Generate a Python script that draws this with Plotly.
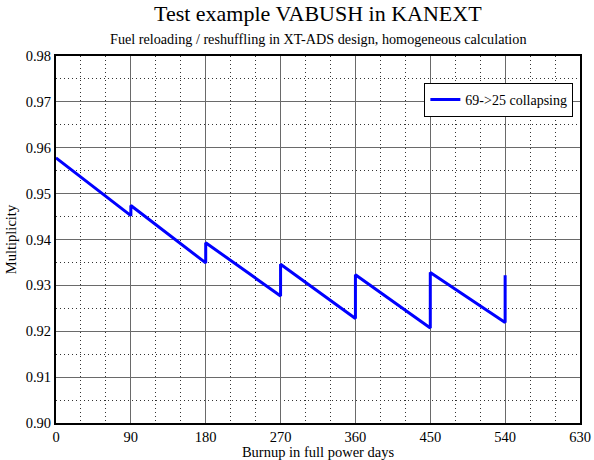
import plotly.graph_objects as go

days = [0, 90, 90, 180, 180, 270, 270, 360, 360, 450, 450, 540, 540]
multiplicity = [0.9578, 0.9452, 0.9474, 0.9349, 0.9393, 0.9277, 0.9346,
                0.9228, 0.9323, 0.9207, 0.9328, 0.9219, 0.9322]
series_name = "69->25 collapsing"
x_ticks = [0, 90, 180, 270, 360, 450, 540, 630]
y_ticks = [0.90, 0.91, 0.92, 0.93, 0.94, 0.95, 0.96, 0.97, 0.98]

FONT = "Liberation Serif, Times New Roman, serif"

fig = go.Figure()
fig.add_trace(go.Scatter(x=days, y=multiplicity, mode="lines", name=series_name,
                         line=dict(color="#0000ff", width=3)))

fig.update_layout(
    width=594, height=460,
    margin=dict(l=56, r=14, t=56, b=37, autoexpand=False),
    paper_bgcolor="white", plot_bgcolor="white",
    font=dict(family=FONT, size=14, color="black"),
    showlegend=True,
    legend=dict(x=0.703, y=0.927, xanchor="left", yanchor="top",
                bgcolor="white", bordercolor="black", borderwidth=1,
                font=dict(family=FONT, size=14), itemwidth=30,
                tracegroupgap=0),
    annotations=[
        dict(text="Test example VABUSH in KANEXT", x=0.5, y=1, xref="paper", yref="paper",
             xanchor="center", yanchor="bottom", showarrow=False,
             font=dict(family=FONT, size=22), yshift=28),
        dict(text="Fuel reloading / reshuffling in XT-ADS design, homogeneous calculation",
             x=0.5, y=1, xref="paper", yref="paper", xanchor="center", yanchor="bottom",
             showarrow=False, font=dict(family=FONT, size=14.2), yshift=7),
    ],
)

fig.update_xaxes(range=[0, 630], tickvals=x_ticks, showgrid=True, gridcolor="#6a6a6a",
                 gridwidth=1, zeroline=False, showline=True, linecolor="black", linewidth=2,
                 mirror=True, ticks="", tickfont=dict(family=FONT, size=14.5), automargin=False,
                 title=dict(text="Burnup in full power days", font=dict(family=FONT, size=14.5), standoff=0),
                 minor=dict(dtick=30, showgrid=True, gridcolor="#333333", griddash="1px,3px", gridwidth=1))
fig.update_yaxes(range=[0.90, 0.98], tickvals=y_ticks, tickformat=".2f", showgrid=True,
                 gridcolor="#6a6a6a", gridwidth=1, zeroline=False, showline=True,
                 linecolor="black", linewidth=2, mirror=True, ticks="", automargin=False,
                 tickfont=dict(family=FONT, size=14.5),
                 title=dict(text="Multiplicity", font=dict(family=FONT, size=14.5), standoff=6),
                 minor=dict(dtick=0.005, showgrid=True, gridcolor="#333333", griddash="1px,3px", gridwidth=1))

fig.write_html("out.html", config={"displayModeBar": False})

with open("out.html", "r", encoding="utf-8") as f:
    html = f.read()
html = html.replace("<head>", "<head><style>html,body{margin:0;padding:0;overflow:hidden;}</style>", 1)
with open("out.html", "w", encoding="utf-8") as f:
    f.write(html)
